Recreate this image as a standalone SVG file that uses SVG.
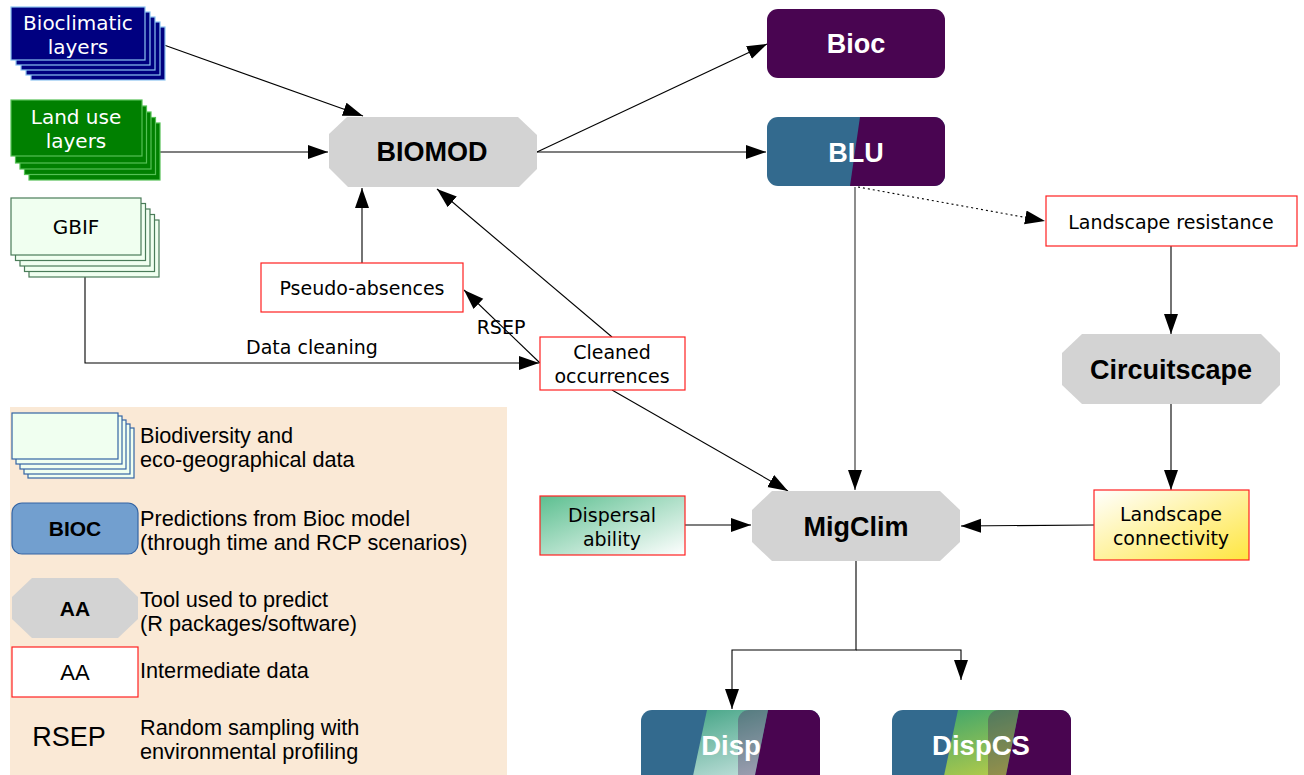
<svg xmlns="http://www.w3.org/2000/svg" width="1304" height="775" viewBox="0 0 1304 775">
  <defs>
    <style>
      .lbl { font-family: "DejaVu Sans", "Open Sans", sans-serif; font-size: 19px; fill: #000; text-anchor: middle; }
      .lblw { font-family: "DejaVu Sans", "Open Sans", sans-serif; font-size: 20px; fill: #fff; text-anchor: middle; }
      .bold { font-family: "Liberation Sans", Arial, sans-serif; font-weight: bold; font-size: 27px; text-anchor: middle; }
      .leg { font-family: "Liberation Sans", Arial, sans-serif; font-size: 21.7px; fill: #000; }
      .tool { fill: #d3d3d3; stroke: none; }
      .inter { fill: #fff; stroke: #ff2020; stroke-width: 1.2; }
      .conn { stroke: #000; stroke-width: 1.1; fill: none; }
      .bio { fill: #000080; stroke: #8cc4f0; stroke-width: 1.2; }
      .lu { fill: #008000; stroke: #55c055; stroke-width: 1.2; }
      .gb { fill: #f0fff0; stroke: #4a7c59; stroke-width: 1.2; }
      .lgstack { fill: #f0fff0; stroke: #3465a4; stroke-width: 1.2; }
    </style>
    <marker id="arr" markerUnits="userSpaceOnUse" markerWidth="22" markerHeight="16" refX="20" refY="7" orient="auto">
      <path d="M0,0 L20,7 L0,14 z" fill="#000"/>
    </marker>
    <linearGradient id="gDispersal" x1="0" y1="0" x2="1" y2="1">
      <stop offset="0" stop-color="#5cbf90"/>
      <stop offset="1" stop-color="#ffffff"/>
    </linearGradient>
    <linearGradient id="gConnect" x1="0" y1="0" x2="1" y2="1">
      <stop offset="0" stop-color="#ffffff"/>
      <stop offset="1" stop-color="#ffe640"/>
    </linearGradient>
    <linearGradient id="gDispBand" x1="0" y1="0" x2="0.3" y2="1">
      <stop offset="0" stop-color="#45a586"/>
      <stop offset="1" stop-color="#c2e0dc"/>
    </linearGradient>
    <linearGradient id="gCSBand" x1="0" y1="0" x2="0.3" y2="1">
      <stop offset="0" stop-color="#3fa66c"/>
      <stop offset="1" stop-color="#b8cc48"/>
    </linearGradient>
    <clipPath id="cBLU"><rect x="767" y="117" width="178" height="69" rx="11"/></clipPath>
    <clipPath id="cDisp"><rect x="641" y="710" width="179" height="80" rx="11"/></clipPath>
    <clipPath id="cDispCS"><rect x="892" y="710" width="179" height="80" rx="11"/></clipPath>
  </defs>

  <rect width="1304" height="775" fill="#fff"/>

  <!-- legend panel -->
  <g id="legend">
    <rect x="10" y="407" width="497" height="370" fill="#fae9d6"/>
    <rect class="lgstack" x="28" y="428" width="106" height="50"/>
    <rect class="lgstack" x="24" y="424" width="106" height="50"/>
    <rect class="lgstack" x="20" y="420" width="106" height="49"/>
    <rect class="lgstack" x="16" y="416" width="106" height="48"/>
    <rect class="lgstack" x="12" y="413" width="106" height="46"/>
    <text class="leg" x="140" y="443">Biodiversity and</text>
    <text class="leg" x="140" y="467">eco-geographical data</text>

    <rect x="12" y="503" width="126" height="51" rx="10" fill="#729fcf" stroke="#3465a4" stroke-width="1.2"/>
    <text class="bold" x="75" y="536" style="font-size:21px">BIOC</text>
    <text class="leg" x="140" y="526">Predictions from Bioc model</text>
    <text class="leg" x="140" y="550">(through time and RCP scenarios)</text>

    <polygon class="tool" points="32,578 118,578 138,597 138,619 118,638 32,638 12,619 12,597"/>
    <text class="bold" x="75" y="616" style="font-size:21px">AA</text>
    <text class="leg" x="140" y="607">Tool used to predict</text>
    <text class="leg" x="140" y="631">(R packages/software)</text>

    <rect class="inter" x="12" y="647" width="126" height="50"/>
    <text x="75" y="680" style="font-family:'Liberation Sans',Arial,sans-serif;font-size:22px;text-anchor:middle">AA</text>
    <text class="leg" x="140" y="678">Intermediate data</text>

    <text x="69" y="746" style="font-family:'Liberation Sans',Arial,sans-serif;font-size:27px;text-anchor:middle">RSEP</text>
    <text class="leg" x="140" y="735">Random sampling with</text>
    <text class="leg" x="140" y="759">environmental profiling</text>
  </g>

  <!-- connectors -->
  <g id="connectors">
    <line class="conn" x1="164" y1="45" x2="363" y2="116" marker-end="url(#arr)"/>
    <line class="conn" x1="160" y1="152" x2="328" y2="152" marker-end="url(#arr)"/>
    <polyline class="conn" points="85,277 85,363 539,363" marker-end="url(#arr)"/>
    <line class="conn" x1="362" y1="263" x2="362" y2="188" marker-end="url(#arr)"/>
    <line class="conn" x1="612" y1="337" x2="437" y2="189" marker-end="url(#arr)"/>
    <line class="conn" x1="540" y1="363" x2="464" y2="290" marker-end="url(#arr)"/>
    <line class="conn" x1="612" y1="390" x2="788" y2="491" marker-end="url(#arr)"/>
    <line class="conn" x1="537" y1="152" x2="767" y2="44" marker-end="url(#arr)"/>
    <line class="conn" x1="537" y1="152" x2="766" y2="152" marker-end="url(#arr)"/>
    <line x1="855" y1="187" x2="855" y2="490" stroke="#707070" stroke-width="1.6" marker-end="url(#arr)"/>
    <line class="conn" x1="858" y1="187" x2="1045" y2="221" stroke-dasharray="2,3" marker-end="url(#arr)"/>
    <line class="conn" x1="1171" y1="246" x2="1171" y2="334" marker-end="url(#arr)"/>
    <line class="conn" x1="1171" y1="404" x2="1171" y2="490" marker-end="url(#arr)"/>
    <line class="conn" x1="1094" y1="525" x2="961" y2="526" marker-end="url(#arr)"/>
    <line class="conn" x1="685" y1="525" x2="751" y2="525" marker-end="url(#arr)"/>
    <polyline class="conn" points="856,561 856,650 732,650 732,709" marker-end="url(#arr)"/>
    <polyline class="conn" points="856,650 961,650 961,680" marker-end="url(#arr)"/>
    <text class="lbl" x="312" y="354">Data cleaning</text>
    <text class="lbl" x="501" y="334">RSEP</text>
  </g>

  <!-- input data stacks -->
  <g id="bioclimatic">
    <rect class="bio" x="31" y="27" width="134" height="53"/>
    <rect class="bio" x="26" y="22" width="134" height="53"/>
    <rect class="bio" x="21" y="17" width="134" height="53"/>
    <rect class="bio" x="16" y="12" width="134" height="53"/>
    <rect class="bio" x="11" y="7" width="134" height="53"/>
    <text class="lblw" x="78" y="30">Bioclimatic</text>
    <text class="lblw" x="78" y="54">layers</text>
  </g>

  <g id="landuse">
    <rect class="lu" x="29" y="123" width="131" height="57"/>
    <rect class="lu" x="24.5" y="117.5" width="131" height="57"/>
    <rect class="lu" x="20" y="112" width="131" height="57"/>
    <rect class="lu" x="15.5" y="106" width="131" height="57"/>
    <rect class="lu" x="11" y="100" width="131" height="56"/>
    <text class="lblw" x="76" y="124">Land use</text>
    <text class="lblw" x="76" y="148">layers</text>
  </g>

  <g id="gbif">
    <rect class="gb" x="29" y="220" width="130" height="57"/>
    <rect class="gb" x="24.5" y="214.5" width="130" height="57"/>
    <rect class="gb" x="20" y="209" width="130" height="57"/>
    <rect class="gb" x="15.5" y="203.5" width="130" height="57"/>
    <rect class="gb" x="11" y="198" width="130" height="57"/>
    <text class="lbl" x="76" y="234" style="font-size:20px">GBIF</text>
  </g>

  <!-- tools -->
  <g id="biomod">
    <polygon class="tool" points="347,117 518,117 537,135 537,169 519,187 348,187 329,168 329,134"/>
    <text class="bold" x="432" y="161">BIOMOD</text>
  </g>

  <g id="circuitscape">
    <polygon class="tool" points="1082,334 1261,334 1280,353 1280,385 1261,404 1082,404 1062,385 1062,353"/>
    <text class="bold" x="1171" y="379">Circuitscape</text>
  </g>

  <g id="migclim">
    <polygon class="tool" points="772,491 940,491 960,510 960,542 940,561 772,561 752,542 752,510"/>
    <text class="bold" x="856" y="536">MigClim</text>
  </g>

  <!-- model predictions -->
  <g id="bioc">
    <rect x="767" y="9" width="178" height="69" rx="11" fill="#490551"/>
    <text class="bold" x="856" y="53" fill="#fff">Bioc</text>
  </g>

  <g id="blu">
    <g clip-path="url(#cBLU)">
      <rect x="767" y="117" width="178" height="69" fill="#336a8e"/>
      <polygon points="860,117 945,117 945,186 850,186" fill="#490551"/>
    </g>
    <text class="bold" x="856" y="162" fill="#fff">BLU</text>
  </g>

  <g id="disp">
    <g clip-path="url(#cDisp)">
      <rect x="641" y="710" width="179" height="80" fill="#336a8e"/>
      <polygon points="768,710 820,710 820,790 752,790" fill="#490551"/>
      <polygon points="707,710 768,710 752,790 690,790" fill="url(#gDispBand)"/>
      <rect x="738" y="710" width="100" height="80" rx="11" fill="#490551" opacity="0.3"/>
    </g>
    <text class="bold" x="731" y="755" fill="#fff" style="font-size:27.5px">Disp</text>
  </g>

  <g id="dispcs">
    <g clip-path="url(#cDispCS)">
      <rect x="892" y="710" width="179" height="80" fill="#336a8e"/>
      <polygon points="1019,710 1071,710 1071,790 1003,790" fill="#490551"/>
      <polygon points="958,710 1019,710 1003,790 941,790" fill="url(#gCSBand)"/>
      <rect x="988" y="710" width="100" height="80" rx="11" fill="#490551" opacity="0.3"/>
    </g>
    <text class="bold" x="981" y="755" fill="#fff" style="font-size:27.5px">DispCS</text>
  </g>

  <!-- intermediate data -->
  <g id="pseudo-absences">
    <rect class="inter" x="261" y="263" width="202" height="49"/>
    <text class="lbl" x="362" y="295">Pseudo-absences</text>
  </g>

  <g id="cleaned-occurrences">
    <rect class="inter" x="540" y="337" width="145" height="53"/>
    <text class="lbl" x="612" y="359">Cleaned</text>
    <text class="lbl" x="612" y="383">occurrences</text>
  </g>

  <g id="landscape-resistance">
    <rect class="inter" x="1046" y="196" width="251" height="50"/>
    <text class="lbl" x="1171" y="229">Landscape resistance</text>
  </g>

  <g id="dispersal-ability">
    <rect x="540" y="496" width="145" height="59" fill="url(#gDispersal)" stroke="#ff2020" stroke-width="1.2"/>
    <text class="lbl" x="612" y="522">Dispersal</text>
    <text class="lbl" x="612" y="546">ability</text>
  </g>

  <g id="landscape-connectivity">
    <rect x="1094" y="490" width="155" height="70" fill="url(#gConnect)" stroke="#ff2020" stroke-width="1.2"/>
    <text class="lbl" x="1171" y="521">Landscape</text>
    <text class="lbl" x="1171" y="545">connectivity</text>
  </g>
</svg>
